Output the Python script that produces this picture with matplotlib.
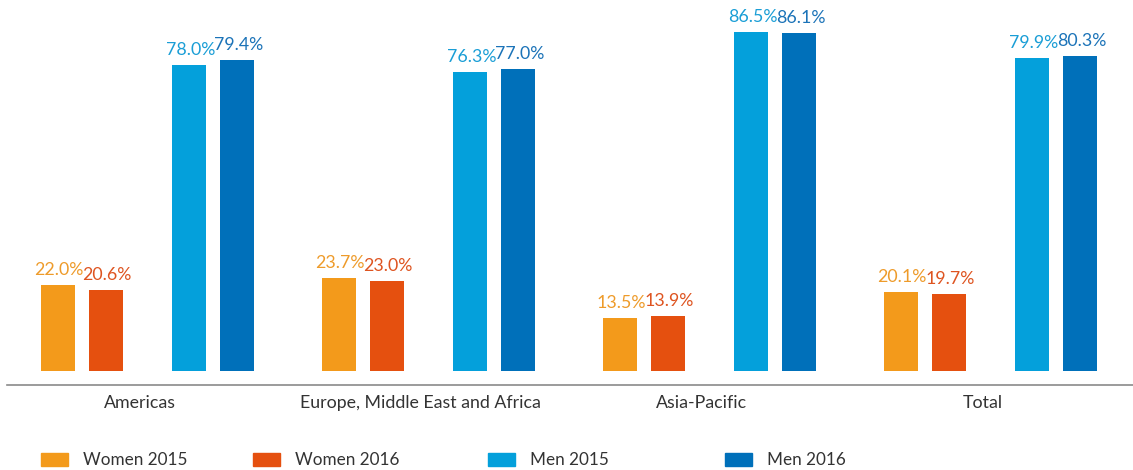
import matplotlib.pyplot as plt
import numpy as np
from matplotlib.patches import Rectangle

plt.rcParams['font.family'] = ['Lato', 'DejaVu Sans']

# data
regions = ["Americas", "Europe, Middle East and Africa", "Asia-Pacific", "Total"]
series = ["Women 2015", "Women 2016", "Men 2015", "Men 2016"]
women_2015 = [22.0, 23.7, 13.5, 20.1]
women_2016 = [20.6, 23.0, 13.9, 19.7]
men_2015 = [78.0, 76.3, 86.5, 79.9]
men_2016 = [79.4, 77.0, 86.1, 80.3]

colors = ['#F39A1B', '#E5500F', '#04A0DB', '#0070BA']
text_colors = ['#EE9B2A', '#DE5420', '#1A9ED6', '#1B73B8']

fig = plt.figure(figsize=(11.33, 4.70), dpi=100)
ax = fig.add_axes([7 / 1133, 85 / 470, 1 - 7 / 1133, 385 / 470])

x = np.arange(len(regions))
offsets = [-0.32, -0.149, 0.149, 0.32]
width = 0.121
values = [women_2015, women_2016, men_2015, men_2016]

for vals, off, c, tc in zip(values, offsets, colors, text_colors):
    bars = ax.bar(x + off, vals, width, color=c)
    for b, v in zip(bars, vals):
        ax.annotate(f"{v:.1f}%", (b.get_x() + b.get_width() / 2, v),
                    xytext=(1, 5), textcoords='offset points',
                    ha='center', va='bottom', fontsize=12.8, color=tc)

ax.set_xlim(-0.5, 3.507)
ax.set_ylim(-3.6, 94.6)
ax.set_yticks([])
ax.set_xticks(x - 0.028)
ax.set_xticklabels(regions, fontsize=12.8, color='#333333')
ax.tick_params(axis='x', length=0, pad=7)
for s in ['top', 'right', 'left']:
    ax.spines[s].set_visible(False)
ax.spines['bottom'].set_color('#8a8a8a')
ax.spines['bottom'].set_linewidth(1.2)

# legend drawn by hand to keep the original spacing
leg_x = [41, 253, 488, 725]
for lx, name, c in zip(leg_x, series, colors):
    fig.patches.append(Rectangle((lx / 1133, (470 - 466) / 470), 27 / 1133, 13 / 470,
                                 transform=fig.transFigure, color=c))
    fig.text((lx + 42) / 1133, (470 - 460) / 470, name, fontsize=12.3,
             color='#333333', va='center', ha='left')

fig.savefig("out.png", dpi=100)
